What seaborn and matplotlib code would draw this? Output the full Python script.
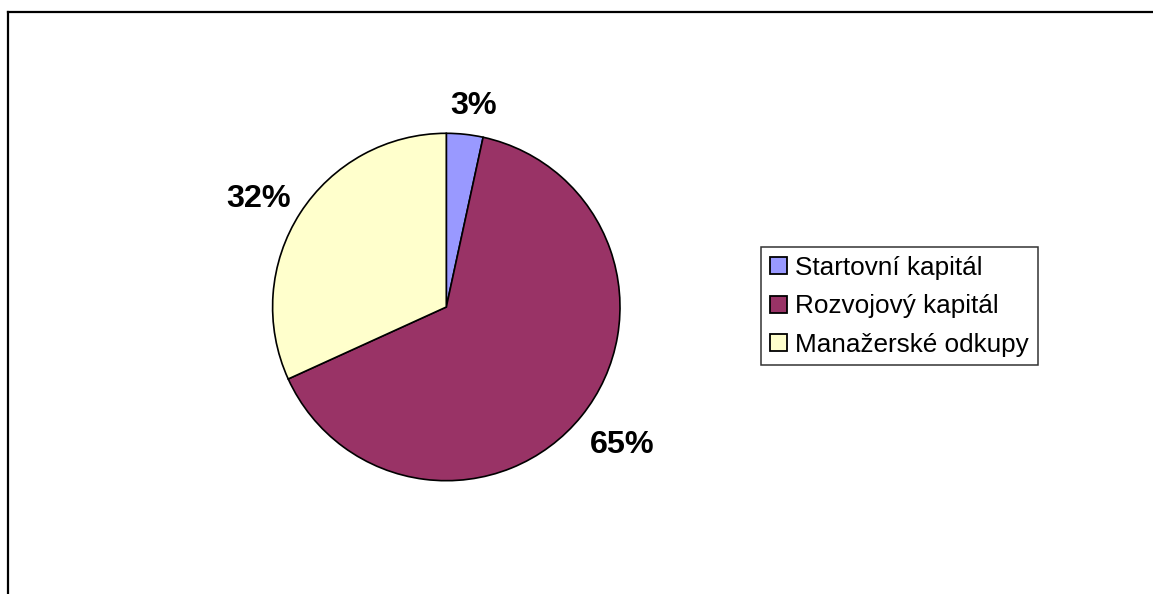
import numpy as np
import matplotlib
matplotlib.use("Agg")
import matplotlib.pyplot as plt
from matplotlib.patches import Patch
from matplotlib.lines import Line2D
import seaborn as sns

# Venture capital investment structure by stage
categories = ["Startovní kapitál", "Rozvojový kapitál", "Manažerské odkupy"]
shares = [3.4, 64.8, 31.8]
colors = ["#9999FF", "#993366", "#FFFFCC"]

sns.set_style("white")
plt.rcParams["font.family"] = ["Liberation Sans", "DejaVu Sans"]
plt.rcParams["text.color"] = "black"

W, H = 1153, 594
fig = plt.figure(figsize=(W / 100, H / 100), dpi=100)
fig.patch.set_facecolor("white")

# Chart-area border: only the top and left edges fall inside the canvas
fig.add_artist(Line2D([8 / W, 8 / W], [0, 1 - 11.5 / H], transform=fig.transFigure,
                      color="black", lw=1.6, solid_capstyle="projecting"))
fig.add_artist(Line2D([8 / W, 1.0], [1 - 11.5 / H, 1 - 11.5 / H], transform=fig.transFigure,
                      color="black", lw=1.6, solid_capstyle="projecting"))

# Pie axes, centred at (446, 307) px with radius ~174 px
cx, cy, r = 446.3, 307.0, 173.7
lim = 1.45
half = r * lim
ax = fig.add_axes([(cx - half) / W, (H - cy - half) / H, 2 * half / W, 2 * half / H])

wedges, _, autotexts = ax.pie(
    shares, colors=colors, startangle=90, counterclock=False, radius=1.0,
    autopct=lambda p: f"{p:.0f}%", pctdistance=1.25,
    wedgeprops=dict(edgecolor="black", linewidth=1.2),
    textprops=dict(fontsize=23.3, fontweight="bold", color="black"),
)

# Place each percentage label just outside its slice (distance, angular nudge in degrees)
label_dist = [1.188, 1.271, 1.258]
label_nudge = [-1.6, 1.5, 2.0]
for w, t, d, n in zip(wedges, autotexts, label_dist, label_nudge):
    mid = np.deg2rad((w.theta1 + w.theta2) / 2 + n)
    t.set_position((d * np.cos(mid), d * np.sin(mid) - 0.02))
    t.set_ha("center")
    t.set_va("center")

ax.set_xlim(-lim, lim)
ax.set_ylim(-lim, lim)
ax.set_aspect("equal")
ax.axis("off")

handles = [Patch(facecolor=c, edgecolor="black", linewidth=1.3) for c in colors]
leg = fig.legend(
    handles, categories, loc="upper left",
    bbox_to_anchor=(761 / W, 1 - 247 / H), bbox_transform=fig.transFigure,
    borderaxespad=0, fontsize=18.8, frameon=True, fancybox=False,
    edgecolor="black", labelcolor="black", handlelength=0.66, handleheight=0.62,
    handletextpad=0.3, borderpad=0.34, labelspacing=0.55,
)
leg.get_frame().set_linewidth(1.1)

fig.savefig("out.png", dpi=100, facecolor="white")
